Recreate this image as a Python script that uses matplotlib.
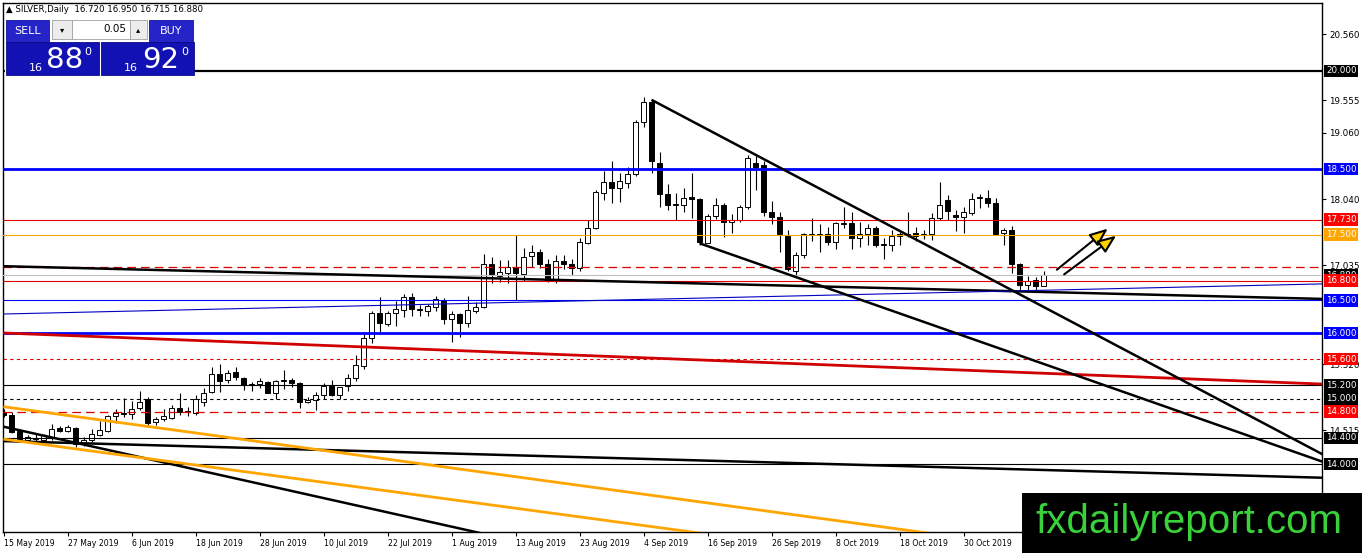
import matplotlib
matplotlib.use('Agg')
import matplotlib.pyplot as plt
from matplotlib import font_manager
from matplotlib.patches import Rectangle, FancyArrowPatch
from matplotlib.transforms import blended_transform_factory

# ---- daily candles SILVER (15 May 2019 .. 13 Nov 2019), one entry per bar ----
opens = [14.80, 14.75, 14.51, 14.37, 14.38, 14.36, 14.41, 14.55, 14.50, 14.545,
         14.32, 14.37, 14.44, 14.51, 14.73, 14.77, 14.76, 14.85, 14.99, 14.645,
         14.69, 14.71, 14.85, 14.79, 14.78, 14.95, 15.10, 15.37, 15.29, 15.40,
         15.32, 15.22, 15.22, 15.25, 15.09, 15.29, 15.28, 15.23, 14.94, 14.98,
         15.06, 15.20, 15.05, 15.19, 15.32, 15.50, 15.92, 16.30, 16.14, 16.30,
         16.35, 16.545, 16.37, 16.34, 16.40, 16.49, 16.21, 16.29, 16.15, 16.34,
         16.39, 17.06, 16.875, 16.92, 17.00, 16.90, 17.175, 17.23, 17.06, 16.81,
         17.10, 17.06, 16.99, 17.38, 17.61, 18.13, 18.30, 18.22, 18.29, 18.42,
         19.22, 19.53, 18.59, 18.12, 17.96, 17.95, 18.07, 18.05, 17.38, 17.79,
         17.96, 17.69, 17.73, 17.93, 18.60, 18.56, 17.84, 17.77, 17.48, 16.94,
         17.19, 17.50, 17.51, 17.51, 17.385, 17.67, 17.675, 17.45, 17.51, 17.60,
         17.35, 17.34, 17.48, 17.50, 17.53, 17.50, 17.51, 17.76, 18.03, 17.80,
         17.77, 17.83, 18.06, 18.06, 17.99, 17.52, 17.57, 17.06, 16.74, 16.81,
         16.72]
highs = [14.84, 14.80, 14.53, 14.45, 14.46, 14.46, 14.61, 14.58, 14.59, 14.57,
         14.41, 14.53, 14.66, 14.75, 14.84, 15.01, 14.96, 15.11, 15.02, 14.72,
         14.84, 14.90, 15.08, 14.87, 15.06, 15.16, 15.48, 15.52, 15.44, 15.48,
         15.33, 15.25, 15.31, 15.27, 15.29, 15.43, 15.32, 15.25, 15.03, 15.10,
         15.24, 15.28, 15.18, 15.37, 15.66, 15.98, 16.33, 16.545, 16.33, 16.49,
         16.60, 16.61, 16.42, 16.44, 16.57, 16.53, 16.33, 16.30, 16.56, 16.47,
         17.21, 17.165, 17.11, 17.11, 17.50, 17.30, 17.35, 17.29, 17.13, 17.19,
         17.19, 17.13, 17.45, 17.73, 18.19, 18.48, 18.62, 18.44, 18.53, 19.25,
         19.61, 19.56, 18.77, 18.28, 18.13, 18.21, 18.44, 18.06, 17.82, 18.06,
         17.98, 17.81, 17.96, 18.72, 18.70, 18.63, 18.01, 17.85, 17.57, 17.24,
         17.53, 17.76, 17.66, 17.62, 17.70, 17.92, 17.85, 17.70, 17.66, 17.63,
         17.45, 17.57, 17.54, 17.85, 17.62, 17.58, 17.83, 18.30, 18.11, 17.88,
         17.93, 18.14, 18.12, 18.18, 18.06, 17.61, 17.63, 17.07, 16.87, 16.85,
         16.95]
lows = [14.72, 14.47, 14.34, 14.34, 14.33, 14.33, 14.37, 14.49, 14.49, 14.26,
        14.28, 14.33, 14.43, 14.49, 14.63, 14.72, 14.68, 14.82, 14.59, 14.59,
        14.66, 14.69, 14.75, 14.74, 14.75, 14.88, 15.08, 15.10, 15.24, 15.28,
        15.13, 15.11, 15.16, 15.08, 14.99, 15.15, 15.18, 14.85, 14.93, 14.83,
        14.99, 15.04, 14.99, 15.11, 15.26, 15.45, 15.85, 16.02, 16.10, 16.11,
        16.25, 16.26, 16.26, 16.26, 16.33, 16.14, 15.87, 15.94, 16.09, 16.30,
        16.38, 16.76, 16.785, 16.76, 16.50, 16.80, 17.01, 16.99, 16.78, 16.77,
        16.98, 16.89, 16.94, 17.36, 17.59, 18.03, 17.99, 18.00, 18.22, 18.40,
        19.14, 18.44, 17.93, 17.88, 17.73, 17.84, 17.75, 17.34, 17.37, 17.74,
        17.46, 17.53, 17.70, 17.90, 18.18, 17.78, 17.66, 17.24, 16.94, 16.86,
        17.15, 17.40, 17.24, 17.34, 17.29, 17.60, 17.29, 17.32, 17.35, 17.31,
        17.125, 17.25, 17.35, 17.46, 17.41, 17.44, 17.42, 17.73, 17.73, 17.56,
        17.53, 17.80, 17.91, 17.93, 17.49, 17.34, 16.91, 16.645, 16.645, 16.62,
        16.715]
closes = [14.75, 14.49, 14.37, 14.41, 14.40, 14.44, 14.53, 14.51, 14.56, 14.30,
          14.37, 14.46, 14.52, 14.73, 14.78, 14.76, 14.84, 14.95, 14.62, 14.69,
          14.73, 14.85, 14.80, 14.81, 14.99, 15.09, 15.37, 15.27, 15.385, 15.33,
          15.21, 15.21, 15.27, 15.09, 15.27, 15.27, 15.23, 14.94, 14.98, 15.05,
          15.19, 15.05, 15.17, 15.32, 15.51, 15.92, 16.31, 16.15, 16.30, 16.36,
          16.545, 16.36, 16.35, 16.41, 16.515, 16.21, 16.29, 16.15, 16.35, 16.39,
          17.06, 16.885, 16.93, 17.00, 16.92, 17.16, 17.23, 17.06, 16.81, 17.10,
          17.06, 16.99, 17.39, 17.60, 18.15, 18.30, 18.21, 18.32, 18.43, 19.22,
          19.53, 18.62, 18.12, 17.95, 17.95, 18.06, 18.05, 17.39, 17.79, 17.96,
          17.69, 17.73, 17.93, 18.67, 18.54, 17.85, 17.77, 17.51, 16.97, 17.19,
          17.51, 17.51, 17.50, 17.385, 17.675, 17.68, 17.45, 17.51, 17.60, 17.34,
          17.34, 17.48, 17.51, 17.51, 17.48, 17.51, 17.76, 17.96, 17.87, 17.77,
          17.84, 18.04, 18.07, 17.99, 17.51, 17.57, 17.06, 16.73, 16.79, 16.71,
          16.88]

# date labels every 8 bars
date_labels = ['15 May 2019', '27 May 2019', '6 Jun 2019', '18 Jun 2019', '28 Jun 2019',
               '10 Jul 2019', '22 Jul 2019', '1 Aug 2019', '13 Aug 2019', '23 Aug 2019',
               '4 Sep 2019', '16 Sep 2019', '26 Sep 2019', '8 Oct 2019', '18 Oct 2019',
               '30 Oct 2019']
label_step = 8

# price scale ticks (plain ones)
price_ticks = [20.560, 19.555, 19.060, 18.040, 17.035, 15.520, 14.515, 13.510]

# horizontal levels
level_prices = [20.000, 18.500, 17.730, 17.500, 17.000, 16.800, 16.500, 16.000,
                15.600, 15.200, 15.000, 14.800, 14.400, 14.000]
level_has_label = [True, True, True, True, False, True, True, True,
                   True, True, True, True, True, True]

# trendlines (bar index, price)
trend_start_bar = [0, 0, 0, 0, 0, 0, 0, 81, 87]
trend_start_price = [17.02, 16.29, 16.00, 14.35, 14.57, 14.875, 14.38, 19.56, 17.37]
trend_end_bar = [165, 165, 165, 165, 80, 165, 165, 165, 165]
trend_end_price = [16.52, 16.75, 15.22, 13.79, 12.39, 12.12, 11.66, 14.14, 14.03]

# the two arrows
arrow_start_bar = [131.4, 132.3]
arrow_start_price = [16.94, 16.87]
arrow_end_bar = [138.3, 139.35]
arrow_end_price = [17.62, 17.51]

header = '\u25b2 SILVER,Daily  16.720 16.950 16.715 16.880'

# narrow font for the small axis texts if available
try:
    font_manager.findfont(font_manager.FontProperties(family='Liberation Sans Narrow'),
                          fallback_to_default=False)
    small_font, date_size, price_size = 'Liberation Sans Narrow', 7.0, 7.2
except Exception:
    small_font, date_size, price_size = 'DejaVu Sans', 5.6, 6.3

# ---------------------------------------------------------------
W, H = 1362, 553
fig = plt.figure(figsize=(W / 100, H / 100), dpi=100)
fig.patch.set_facecolor('white')
ax = fig.add_axes([3 / W, (H - 532) / H, 1319 / W, 529 / H])
ax.set_xlim(-0.0625, 164.81)
ax.set_ylim(12.962, 21.038)

# candles
n = len(opens)
xs = list(range(n))
ax.vlines(xs, lows, highs, color='black', linewidth=0.8, zorder=3)
bottoms = [min(o, c) for o, c in zip(opens, closes)]
heights = [max(abs(c - o), 0.012) for o, c in zip(opens, closes)]
colors = ['white' if c >= o else 'black' for o, c in zip(opens, closes)]
ax.bar(xs, heights, bottom=bottoms, width=0.62, color=colors,
       edgecolor='black', linewidth=0.7, zorder=4)

# level line styles
level_style = {
    20.000: ('black', '-', 1.6, 'black'),
    18.500: ('#0000ff', '-', 2.0, '#0000ff'),
    17.730: ('#e00000', '-', 0.8, '#ff0000'),
    17.500: ('#f0a800', '-', 0.8, '#ffa500'),
    17.000: ('#e00000', (0, (7, 4)), 0.9, None),
    16.800: ('#e00000', '-', 0.8, '#ff0000'),
    16.500: ('#0000ff', '-', 0.8, '#0000ff'),
    16.000: ('#0000ff', '-', 2.0, '#0000ff'),
    15.600: ('#e00000', (0, (3, 3)), 0.8, '#ff0000'),
    15.200: ('black', '-', 0.8, 'black'),
    15.000: ('black', (0, (3, 3)), 0.8, 'black'),
    14.800: ('#e00000', (0, (7, 4)), 0.9, '#ff0000'),
    14.400: ('black', '-', 0.8, 'black'),
    14.000: ('black', '-', 0.8, 'black'),
}
for p in level_prices:
    col, ls, lw, _ = level_style[p]
    ax.axhline(p, color=col, linestyle=ls, linewidth=lw, zorder=5)

# current price line
ax.axhline(closes[-1], color='#c0c0c0', linewidth=0.8, zorder=4.5)

# trendlines
trend_style = [('black', 1.8), ('#0000c0', 0.8), ('#d00000', 2.0), ('black', 1.8),
               ('black', 1.8), ('#ffa500', 2.0), ('#ffa500', 2.0), ('black', 1.8),
               ('black', 1.8)]
for i in range(len(trend_start_bar)):
    col, lw = trend_style[i]
    ax.plot([trend_start_bar[i], trend_end_bar[i]],
            [trend_start_price[i], trend_end_price[i]],
            color=col, linewidth=lw, zorder=6, solid_capstyle='butt')

# arrows
for i in range(len(arrow_start_bar)):
    arr = FancyArrowPatch((arrow_start_bar[i], arrow_start_price[i]),
                          (arrow_end_bar[i], arrow_end_price[i]),
                          arrowstyle='-|>,head_length=11,head_width=4.5',
                          facecolor='#ffd000', edgecolor='black', linewidth=1.5,
                          zorder=7)
    ax.add_patch(arr)

# axes look
for s in ax.spines.values():
    s.set_color('black')
    s.set_linewidth(1.0)
ax.yaxis.tick_right()
ax.set_yticks(price_ticks)
ax.set_yticklabels(['%.3f' % t for t in price_ticks], family=small_font, fontsize=price_size)
ax.set_xticks([k * label_step for k in range(len(date_labels))])
ax.set_xticklabels(date_labels, family=small_font, fontsize=date_size)
for lab in ax.get_xticklabels():
    lab.set_horizontalalignment('left')
ax.tick_params(axis='both', direction='out', length=3, width=0.8,
               colors='black', pad=2)

# level labels on the price scale
tr = blended_transform_factory(ax.transAxes, ax.transData)
ax.text(1.003, closes[-1], '%.3f' % closes[-1], transform=tr, ha='left', va='center',
        color='white', fontsize=price_size, family=small_font, zorder=8, clip_on=False,
        bbox=dict(boxstyle='square,pad=0.2', fc='black', ec='none'))
for p, has in zip(level_prices, level_has_label):
    if not has:
        continue
    bg = level_style[p][3]
    ax.text(1.003, p, '%.3f' % p, transform=tr, ha='left', va='center',
            color='white', fontsize=price_size, family=small_font, zorder=9, clip_on=False,
            bbox=dict(boxstyle='square,pad=0.2', fc=bg, ec='none'))


# ---- one click trading panel + header (figure pixel coords, top-left origin)
def px_rect(x0, y0, x1, y1, **kw):
    r = Rectangle((x0 / W, 1 - y1 / H), (x1 - x0) / W, (y1 - y0) / H,
                  transform=fig.transFigure, **kw)
    fig.add_artist(r)


def px_text(x, y, s, **kw):
    fig.text(x / W, 1 - y / H, s, **kw)


px_text(6, 10, header, fontsize=6.2, va='center', ha='left', color='black', zorder=20)
px_rect(5, 19, 194, 76, fc='white', ec='none', zorder=19)
px_rect(6, 20, 49, 42, fc='#2424c8', ec='#1010a0', lw=0.6, zorder=20)
px_rect(149, 20, 193, 42, fc='#2424c8', ec='#1010a0', lw=0.6, zorder=20)
px_rect(52, 20, 72, 39, fc='#ececec', ec='#a0a0a0', lw=0.6, zorder=20)
px_rect(72, 20, 130, 39, fc='white', ec='#a0a0a0', lw=0.6, zorder=20)
px_rect(130, 20, 147, 39, fc='#ececec', ec='#a0a0a0', lw=0.6, zorder=20)
px_rect(6, 42, 99, 75, fc='#1212b4', ec='#0a0a80', lw=0.6, zorder=20)
px_rect(101, 42, 194, 75, fc='#1212b4', ec='#0a0a80', lw=0.6, zorder=20)
px_text(27.5, 31, 'SELL', fontsize=8, color='white', ha='center', va='center', zorder=21)
px_text(171, 31, 'BUY', fontsize=8, color='white', ha='center', va='center', zorder=21)
px_text(62, 29.5, '\u25be', fontsize=6, color='black', ha='center', va='center', zorder=21)
px_text(138.5, 29.5, '\u25b4', fontsize=6, color='black', ha='center', va='center', zorder=21)
px_text(126, 29.5, '0.05', fontsize=7.5, color='black', ha='right', va='center', zorder=21)
px_text(36, 68, '16', fontsize=8, color='white', ha='center', va='center', zorder=21)
px_text(65, 60, '88', fontsize=21, color='white', ha='center', va='center', zorder=21)
px_text(88, 52, '0', fontsize=8, color='white', ha='center', va='center', zorder=21)
px_text(131, 68, '16', fontsize=8, color='white', ha='center', va='center', zorder=21)
px_text(161, 60, '92', fontsize=21, color='white', ha='center', va='center', zorder=21)
px_text(185, 52, '0', fontsize=8, color='white', ha='center', va='center', zorder=21)

# ---- watermark box
px_rect(1022, 493, 1362, 553, fc='black', ec='none', zorder=30)
px_text(1035, 522, 'fxdailyreport.com', fontsize=29, color='#39d23a',
        family='Liberation Sans', ha='left', va='center', zorder=31)

fig.savefig('out.png', dpi=100, facecolor='white')
